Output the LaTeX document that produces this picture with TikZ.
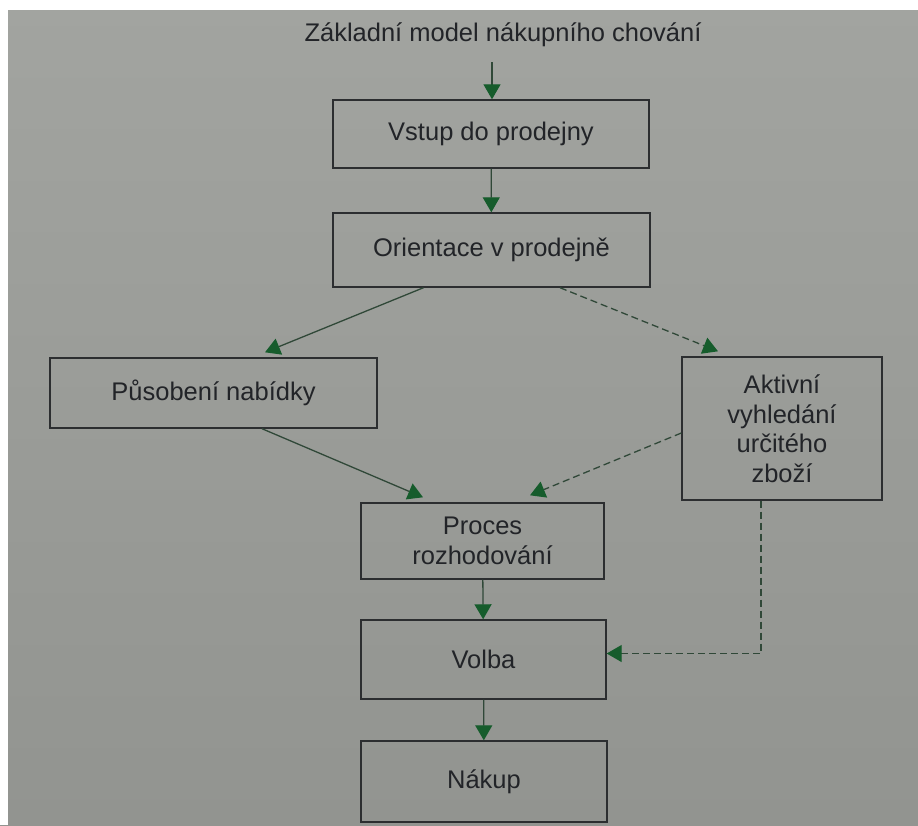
\documentclass[tikz,border=0pt]{standalone}
\usepackage{fontspec}
\setmainfont{Liberation Sans}
\usetikzlibrary{arrows.meta}
\definecolor{papir}{RGB}{162,164,160}
\definecolor{papirdole}{RGB}{146,148,144}
\definecolor{ramec}{RGB}{44,46,48}
\definecolor{pismo}{RGB}{34,36,40}
\definecolor{sipka}{RGB}{22,92,44}
\definecolor{cara}{RGB}{48,72,56}

\begin{document}
\begin{tikzpicture}[x=1pt,y=-1pt,
  krok/.style={draw=ramec,line width=1.4pt,text=pismo,align=center,
    font=\fontsize{25.5}{29.5}\selectfont},
  link/.style={draw=cara,line width=1.3pt,
    -{Triangle[length=15pt,width=17pt,fill=sipka,color=sipka]}},
  hledani/.style={link,dash pattern=on 7pt off 4pt}
]
  \useasboundingbox (0,0) rectangle (918,825);
  % pozadi stranky
  \shade[top color=papir,bottom color=papirdole] (0,0) rectangle (918,825);
  \fill[white] (0,0) rectangle (918,10);
  \fill[white] (0,0) rectangle (8,825);

  % nadpis
  \node[text=pismo,font=\fontsize{25.5}{29.5}\selectfont] (nadpis) at (503,35)
    {Základní model nákupního chování};
  \coordinate (zacatek) at (492,62);

  % bloky
  \node[krok,minimum width=316pt,minimum height=68pt] (vstup) at (491,134)
    {Vstup do prodejny};
  \node[krok,minimum width=317pt,minimum height=74pt] (orient) at (491.5,250)
    {Orientace v prodejně};
  \node[krok,minimum width=327pt,minimum height=70pt] (nabidka) at (213.5,393)
    {Působení nabídky};
  \node[krok,minimum width=200pt,minimum height=143pt] (aktiv) at (782,428.5)
    {Aktivní\\vyhledání\\určitého\\zboží};
  \node[krok,minimum width=243pt,minimum height=76pt] (proces) at (482.5,541)
    {Proces\\rozhodování};
  \node[krok,minimum width=245pt,minimum height=79pt] (volba) at (483.5,659.5)
    {Volba};
  \node[krok,minimum width=246pt,minimum height=81pt] (nakup) at (484,781.5)
    {Nákup};

  % sipky
  \draw[link] (zacatek) -- (vstup.north -| zacatek);
  \draw[link] (vstup) -- (orient);
  \draw[link] ([xshift=-68pt]orient.south) -- ([xshift=51.5pt,yshift=5pt]nabidka.north);
  \draw[hledani] ([xshift=68.5pt]orient.south) -- ([xshift=-64pt,yshift=5pt]aktiv.north);
  \draw[link] ([xshift=48.5pt]nabidka.south) -- ([xshift=-59.5pt,yshift=5pt]proces.north);
  \draw[hledani] ([yshift=-4.5pt]aktiv.west) -- ([xshift=47.5pt,yshift=7pt]proces.north);
  \draw[link] (proces) -- (volba);
  \draw[link] (volba) -- (nakup);
  \draw[hledani] ([xshift=-21pt]aktiv.south) |- ([yshift=6pt]volba.east);
\end{tikzpicture}
\end{document}
